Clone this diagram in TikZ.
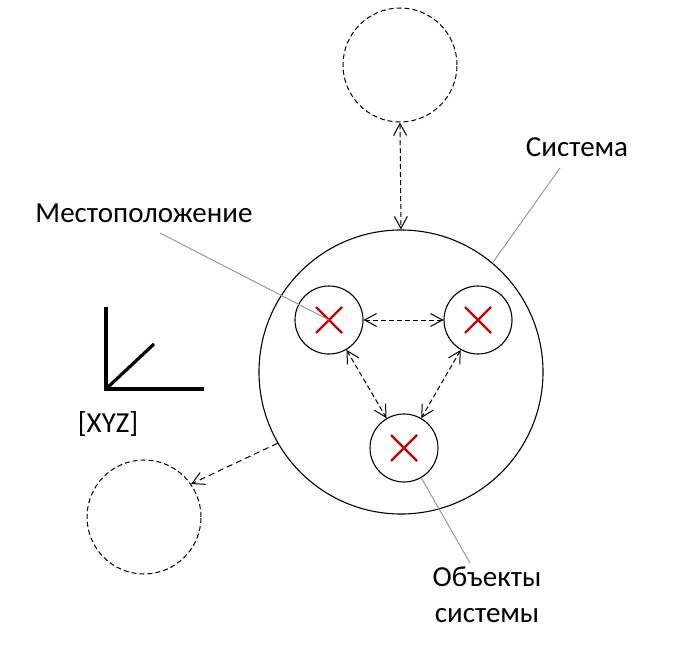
\documentclass[tikz,border=0pt]{standalone}
\usepackage{fontspec}
\setmainfont{Carlito}
\usetikzlibrary{arrows.meta}
\begin{document}
\begin{tikzpicture}[x=1pt,y=-1pt,line width=1pt,
  obj/.style={circle,draw,line width=1.1pt,minimum size=68pt,inner sep=0pt},
  ghost/.style={circle,draw,line width=1pt,dash pattern=on 5pt off 3pt,minimum size=114pt,inner sep=0pt},
  tip/.style={Straight Barb[length=12pt,width=13pt]},
  link/.style={dash pattern=on 5pt off 3pt,line width=1pt,{Straight Barb[length=12pt,width=13pt]}-{Straight Barb[length=12pt,width=13pt]}},
  link1/.style={dash pattern=on 6pt off 4pt,line width=1pt,-{Straight Barb[length=12pt,width=13pt]}},
  lead/.style={gray!80,line width=1pt},
  lbl/.style={font=\fontsize{29}{36}\selectfont,align=center},
  cross/.style={red!80!black,line width=2.4pt}]
\useasboundingbox (0,0) rectangle (686,658);
\node[circle,draw,line width=1.1pt,minimum size=284pt,inner sep=0pt] (sys) at (401,372) {};
\node[ghost] (top) at (400,65) {};
\node[ghost] (bl) at (144,517) {};
\node[obj] (a) at (329,320) {};
\node[obj] (b) at (478,320) {};
\node[obj] (c) at (404,448) {};
\foreach \n in {a,b,c}{
  \draw[cross] ([shift={(-13,-13)}]\n.center) -- ([shift={(13,13)}]\n.center);
  \draw[cross] ([shift={(-13,13)}]\n.center) -- ([shift={(13,-13)}]\n.center);
}
\draw[link] (a) -- (b);
\draw[link] (a) -- (c);
\draw[link] (b) -- (c);
\draw[link] (top.south) -- (sys.north);
\draw[link1] (sys.210) -- (bl.35);
\node[lbl] (loc) at (144,213) {Местоположение};
\node[lbl] (sy) at (577,147) {Система};
\node[lbl] (ob) at (487,595) {Объекты\\системы};
\draw[lead] (160,233) -- (a.center);
\draw[lead] (560,168) -- (sys.50);
\draw[lead] (c.-60) -- (470,563);
\coordinate (o) at (106,389);
\coordinate (oy) at (106,307);
\coordinate (ox) at (204,389);
\coordinate (oz) at (154,344);
\draw[line width=3.2pt] (oy) -- (o) -- (ox);
\draw[line width=3.2pt] (o) -- (oz);
\node[lbl] (xyz) at (108,424) {[XYZ]};
\end{tikzpicture}
\end{document}
